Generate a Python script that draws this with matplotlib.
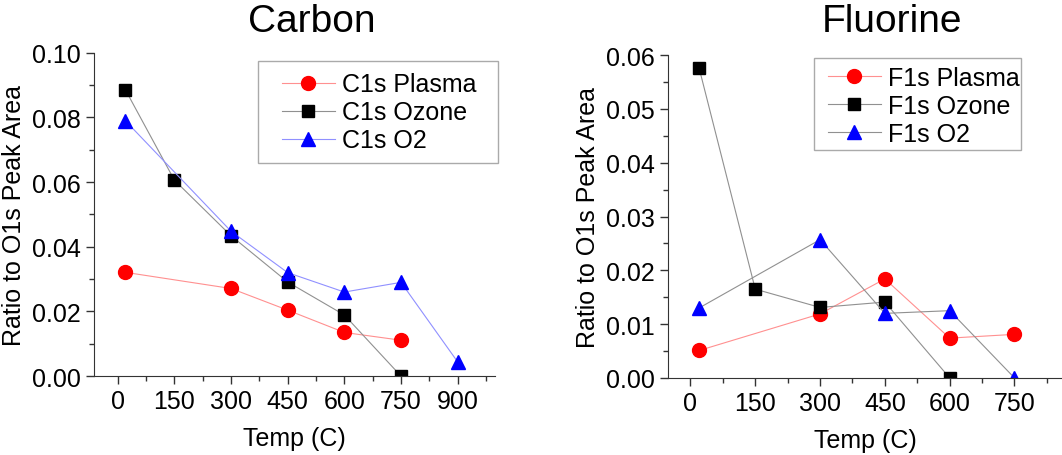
import numpy as np
import matplotlib.pyplot as plt
from matplotlib.patches import Rectangle
from matplotlib.ticker import MultipleLocator, FormatStrFormatter

plt.rcParams['font.family'] = ['Liberation Sans', 'DejaVu Sans']

# Carbon data
c_plasma_x = [20, 300, 450, 600, 750]
c_plasma_y = [0.0321, 0.0271, 0.0204, 0.0135, 0.0111]
c_ozone_x = [20, 150, 300, 450, 600, 750]
c_ozone_y = [0.0886, 0.0606, 0.0434, 0.0291, 0.0189, 0.0]
c_o2_x = [20, 300, 450, 600, 750, 900]
c_o2_y = [0.0790, 0.0448, 0.0320, 0.0260, 0.0290, 0.0044]

# Fluorine data
f_plasma_x = [20, 300, 450, 600, 750]
f_plasma_y = [0.0051, 0.0119, 0.0184, 0.0074, 0.0081]
f_ozone_x = [20, 150, 300, 450, 600]
f_ozone_y = [0.0576, 0.0165, 0.0131, 0.0141, 0.0]
f_o2_x = [20, 300, 450, 600, 750]
f_o2_y = [0.0130, 0.0257, 0.0120, 0.0125, 0.0]

W, H = 1062, 456
fig = plt.figure(figsize=(W / 100, H / 100), dpi=100)
ax1 = fig.add_axes([0.0885, 0.173, 0.378, 0.709])
ax2 = fig.add_axes([0.629, 0.169, 0.371, 0.708])

fs = 18

def style(ax, xlim, ylim, ymaj, ymin, xticks):
    ax.set_xlim(*xlim)
    ax.set_ylim(*ylim)
    ax.spines['top'].set_visible(False)
    ax.spines['right'].set_visible(False)
    ax.spines['left'].set_color('#333333')
    ax.spines['bottom'].set_color('#333333')
    ax.set_xticks(xticks)
    ax.xaxis.set_minor_locator(MultipleLocator(75))
    ax.yaxis.set_major_locator(MultipleLocator(ymaj))
    ax.yaxis.set_minor_locator(MultipleLocator(ymin))
    ax.yaxis.set_major_formatter(FormatStrFormatter('%.2f'))
    ax.tick_params(which='major', direction='out', length=6, width=1, labelsize=fs, colors='#333333', labelcolor='black')
    ax.tick_params(which='minor', direction='out', length=3.5, width=1, colors='#333333')
    ax.set_xlabel('Temp (C)', fontsize=fs, labelpad=9)
    ax.set_ylabel('Ratio to O1s Peak Area', fontsize=fs, labelpad=4)

lw = 0.8
ax1.plot(c_plasma_x, c_plasma_y, '-o', color='#ff9090', mfc='red', mec='red', ms=10, lw=lw, label='C1s Plasma')
ax1.plot(c_ozone_x, c_ozone_y, '-s', color='#909090', mfc='black', mec='black', ms=8.5, lw=lw, label='C1s Ozone')
ax1.plot(c_o2_x, c_o2_y, '-^', color='#9090ff', mfc='blue', mec='blue', ms=10.5, lw=lw, label='C1s O2')
style(ax1, (-63, 1000), (0, 0.10), 0.02, 0.01, [0, 150, 300, 450, 600, 750, 900])

ax2.plot(f_plasma_x, f_plasma_y, '-o', color='#ff9090', mfc='red', mec='red', ms=10, lw=lw, label='F1s Plasma')
ax2.plot(f_ozone_x, f_ozone_y, '-s', color='#909090', mfc='black', mec='black', ms=8.5, lw=lw, label='F1s Ozone')
ax2.plot(f_o2_x, f_o2_y, '-^', color='#909090', mfc='blue', mec='blue', ms=10.5, lw=lw, label='F1s O2')
style(ax2, (-52, 860), (0, 0.06), 0.01, 0.005, [0, 150, 300, 450, 600, 750])

# legend: entries placed without frame, box drawn separately (pixel coords)
for ax, anchor, box in [(ax1, (282, 113.5), (258, 61.7, 498, 164)),
                        (ax2, (828, 107), (814, 59, 1021, 151))]:
    ax.legend(loc='center left', fontsize=fs, frameon=False,
              bbox_to_anchor=(anchor[0] / W, 1 - anchor[1] / H), bbox_transform=fig.transFigure,
              borderaxespad=0, borderpad=0, handlelength=2.1, handletextpad=0.32, labelspacing=0.16)
    x0, y0, x1, y1 = box
    fig.patches.append(Rectangle((x0 / W, 1 - y1 / H), (x1 - x0) / W, (y1 - y0) / H,
                                 transform=fig.transFigure, fill=False, edgecolor='#aaaaaa', lw=1))

fig.text(312 / W, 1 - 22 / H, 'Carbon', fontsize=28, ha='center', va='center')
fig.text(892 / W, 1 - 22 / H, 'Fluorine', fontsize=28, ha='center', va='center')

fig.savefig('out.png', dpi=100)
